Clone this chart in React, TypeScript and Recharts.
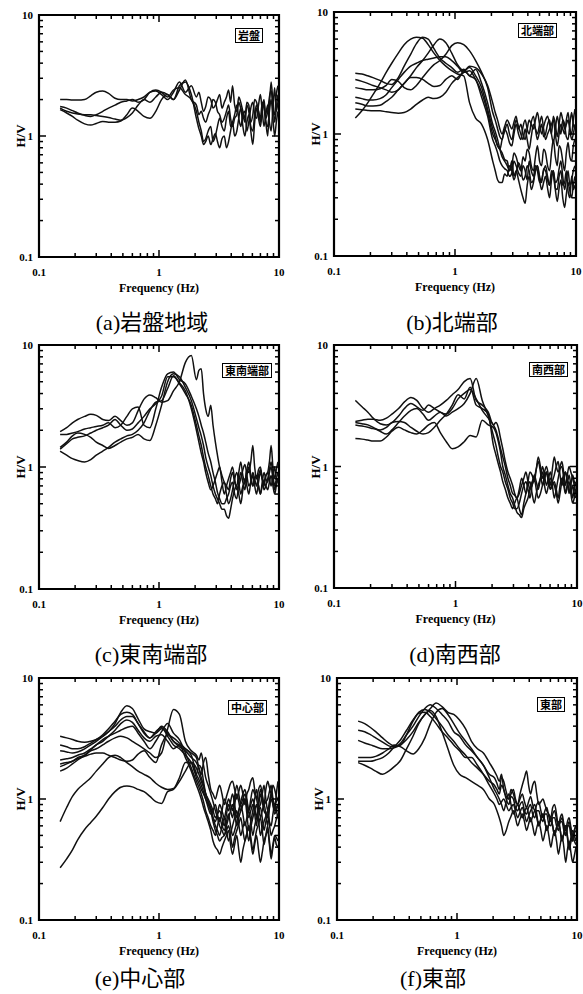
import React from "react";
import { LineChart, Line, XAxis, YAxis, ReferenceArea } from "recharts";

// shared frequency grid (Hz) for every H/V curve: 23 points below 2 Hz, 41 above
const FREQ_HZ = [
  0.15, 0.17, 0.19, 0.21, 0.24, 0.27, 0.3, 0.34, 0.38, 0.43, 0.48, 0.54,
  0.6, 0.67, 0.75, 0.84, 0.94, 1.05, 1.18, 1.32, 1.48, 1.66, 1.86,
  2.05, 2.15, 2.25, 2.35, 2.45, 2.57, 2.7, 2.82, 2.95, 3.07, 3.2, 3.35,
  3.5, 3.65, 3.8, 3.95, 4.1, 4.27, 4.45, 4.62, 4.8, 5.0, 5.2, 5.4, 5.6,
  5.82, 6.05, 6.27, 6.5, 6.75, 7.0, 7.25, 7.5, 7.77, 8.05, 8.32, 8.6,
  8.9, 9.2, 9.5, 9.8,
];

const LOG_TICKS = [
  0.1, 0.2, 0.3, 0.4, 0.5, 0.6, 0.7, 0.8, 0.9,
  1, 2, 3, 4, 5, 6, 7, 8, 9, 10,
];
const MAJOR_TICKS = [0.1, 1, 10];

// (a) 岩盤地域
const ROCK_1 = [2.0, 2.0, 1.98, 1.98, 2.0, 2.15, 2.3, 2.35, 2.25, 2.05, 2.0, 2.0, 1.95, 2.0, 2.1, 2.3, 2.35, 2.2, 2.0, 2.3, 2.8, 2.3, 2.6,
  2.1, 2.3, 1.9, 1.6, 1.75, 2.1, 2.0, 1.7, 1.8, 2.0, 2.2, 1.7, 1.9, 2.1, 2.4, 1.9, 2.6, 1.8, 1.6, 2.1, 1.9, 1.6, 1.4, 1.9, 1.8, 1.3, 1.5, 2.0, 1.9, 1.6, 1.3, 1.7, 2.0, 1.4, 1.6, 2.1, 2.4, 1.7, 1.5, 2.2, 2.6];
const ROCK_2 = [1.75, 1.7, 1.62, 1.55, 1.48, 1.45, 1.5, 1.6, 1.7, 1.8, 1.9, 1.95, 2.0, 1.9, 2.0, 2.3, 2.4, 2.3, 2.1, 2.4, 2.5, 2.2, 2.0,
  1.6, 1.3, 1.1, 0.9, 0.95, 1.1, 1.2, 0.9, 1.0, 1.2, 1.4, 1.2, 1.1, 1.4, 1.6, 1.2, 1.3, 1.5, 1.8, 1.4, 1.2, 1.5, 1.6, 1.1, 1.3, 1.7, 1.9, 1.5, 1.4, 1.8, 2.2, 1.6, 1.2, 1.5, 1.8, 1.3, 1.1, 1.7, 2.5, 1.6, 1.9];
const ROCK_3 = [1.7, 1.6, 1.55, 1.52, 1.5, 1.5, 1.48, 1.45, 1.42, 1.38, 1.35, 1.42, 1.55, 1.8, 2.0, 1.9, 2.1, 2.3, 2.2, 2.0, 2.6, 2.8, 2.2,
  1.4, 1.15, 1.0, 0.85, 0.9, 1.0, 0.85, 0.95, 1.05, 0.9, 0.8, 0.95, 1.0, 0.8, 0.9, 1.1, 1.3, 1.0, 1.1, 1.4, 1.7, 1.2, 1.0, 1.3, 1.5, 1.1, 0.85, 1.3, 1.7, 1.4, 1.2, 1.6, 1.9, 1.3, 1.0, 1.8, 2.8, 1.9, 1.3, 1.7, 2.2];
const ROCK_4 = [1.65, 1.55, 1.45, 1.35, 1.26, 1.23, 1.27, 1.32, 1.3, 1.3, 1.33, 1.5, 1.7, 1.6, 1.45, 1.4, 1.6, 2.0, 2.2, 2.0, 2.4, 2.9, 2.0,
  1.8, 1.5, 1.6, 1.4, 1.3, 1.5, 1.7, 2.0, 1.9, 1.6, 1.5, 1.3, 1.4, 1.6, 1.8, 1.4, 1.2, 1.4, 1.5, 1.9, 1.7, 1.5, 1.3, 1.8, 1.6, 1.2, 1.1, 1.5, 1.8, 1.6, 1.4, 1.9, 1.7, 1.3, 1.2, 1.6, 2.0, 1.4, 1.0, 1.3, 1.6];

// (b) 北端部
const NORTH_1 = [1.35, 1.55, 1.8, 2.1, 2.6, 3.2, 3.8, 4.6, 5.4, 6.0, 6.2, 6.1, 5.4, 4.6, 4.0, 3.6, 3.3, 3.1, 3.0, 1.8, 1.35, 1.2, 0.9,
  0.6, 0.5, 0.42, 0.4, 0.4, 0.47, 0.45, 0.55, 0.5, 0.42, 0.48, 0.58, 0.52, 0.42, 0.45, 0.55, 0.5, 0.4, 0.42, 0.5, 0.55, 0.45, 0.4, 0.52, 0.5, 0.42, 0.38, 0.5, 0.46, 0.36, 0.35, 0.45, 0.5, 0.38, 0.4, 0.5, 0.34, 0.3, 0.45, 0.35, 0.38];
const NORTH_2 = [3.15, 3.1, 3.0, 2.9, 2.75, 2.6, 2.55, 2.9, 3.6, 4.5, 5.5, 6.2, 6.0, 5.0, 4.2, 3.8, 3.5, 3.2, 3.4, 3.0, 3.4, 2.6, 1.8,
  1.2, 1.05, 0.9, 0.75, 0.65, 0.6, 0.55, 0.5, 0.6, 0.45, 0.5, 0.42, 0.35, 0.3, 0.27, 0.38, 0.45, 0.35, 0.4, 0.5, 0.55, 0.42, 0.35, 0.4, 0.45, 0.36, 0.3, 0.42, 0.5, 0.35, 0.28, 0.36, 0.42, 0.3, 0.25, 0.32, 0.4, 0.34, 0.3, 0.38, 0.45];
const NORTH_3 = [2.8, 2.7, 2.6, 2.5, 2.4, 2.3, 2.2, 2.3, 2.6, 3.0, 3.5, 4.0, 4.6, 5.4, 6.0, 5.6, 4.6, 3.7, 3.3, 3.5, 3.0, 2.4, 1.6,
  1.1, 0.95, 0.8, 0.75, 0.7, 0.62, 0.6, 0.5, 0.55, 0.7, 0.65, 0.55, 0.5, 0.65, 0.6, 0.75, 0.7, 0.55, 0.5, 0.65, 0.8, 0.6, 0.55, 0.75, 0.7, 0.55, 0.5, 0.7, 0.9, 0.65, 0.55, 0.8, 0.75, 0.6, 0.5, 0.7, 0.85, 0.65, 0.6, 0.8, 0.9];
const NORTH_4 = [2.4, 2.35, 2.3, 2.3, 2.35, 2.5, 2.8, 2.7, 2.4, 2.3, 2.5, 2.9, 3.3, 3.7, 4.0, 4.5, 5.3, 5.6, 5.4, 4.8, 4.0, 3.2, 2.4,
  1.5, 1.3, 1.1, 0.95, 0.9, 1.1, 1.0, 0.85, 0.8, 1.0, 1.2, 1.0, 0.9, 1.15, 1.3, 1.1, 1.0, 1.25, 1.4, 1.1, 0.9, 1.05, 1.2, 0.95, 1.0, 1.2, 1.3, 1.0, 0.85, 1.1, 1.4, 1.15, 1.0, 1.3, 1.2, 0.95, 0.9, 1.2, 1.5, 1.2, 1.1];
const NORTH_5 = [2.0, 1.95, 1.9, 1.9, 1.95, 2.1, 2.4, 2.8, 3.2, 3.6, 3.8, 4.0, 4.1, 4.2, 4.3, 4.3, 4.0, 3.6, 3.2, 3.3, 2.8, 2.2, 1.5,
  1.0, 0.9, 0.8, 0.75, 0.9, 1.05, 1.2, 1.0, 0.9, 1.1, 1.3, 1.15, 1.0, 0.9, 1.1, 0.9, 0.75, 0.95, 1.2, 1.1, 1.0, 1.2, 1.4, 1.1, 0.9, 1.0, 1.1, 1.2, 1.3, 1.0, 0.8, 1.0, 1.2, 1.1, 1.0, 1.3, 1.5, 1.1, 0.9, 1.0, 1.2];
const NORTH_6 = [1.8, 1.75, 1.7, 1.7, 1.72, 1.85, 2.0, 2.3, 2.6, 2.9, 2.9, 2.8, 2.6, 2.45, 2.5, 2.8, 3.0, 2.8, 3.3, 3.0, 2.8, 2.0, 1.4,
  0.9, 0.8, 0.7, 0.6, 0.55, 0.52, 0.5, 0.45, 0.48, 0.6, 0.55, 0.48, 0.45, 0.55, 0.5, 0.42, 0.6, 0.5, 0.45, 0.55, 0.5, 0.4, 0.42, 0.5, 0.55, 0.45, 0.38, 0.46, 0.5, 0.4, 0.42, 0.52, 0.6, 0.45, 0.35, 0.42, 0.5, 0.38, 0.42, 0.5, 0.55];
const NORTH_7 = [1.6, 1.58, 1.56, 1.55, 1.55, 1.52, 1.5, 1.48, 1.5, 1.6, 1.75, 1.9, 2.0, 1.95, 2.0, 2.2, 2.6, 2.9, 3.2, 3.6, 3.5, 3.1, 2.5,
  1.8, 1.5, 1.3, 1.1, 1.0, 1.15, 1.3, 1.2, 1.1, 1.25, 1.4, 1.1, 1.2, 1.0, 0.9, 1.1, 1.3, 1.2, 1.1, 1.3, 1.5, 1.2, 1.0, 1.15, 1.3, 1.4, 1.2, 1.0, 1.4, 1.2, 0.95, 1.2, 1.5, 1.3, 1.1, 1.2, 1.3, 1.1, 1.0, 1.3, 1.6];

// (c) 東南端部
const SE_1 = [1.95, 2.1, 2.3, 2.45, 2.6, 2.7, 2.65, 2.45, 2.4, 2.6, 2.4, 2.2, 2.3, 2.9, 3.6, 3.9, 3.7, 3.4, 3.5, 4.2, 5.0, 7.2, 8.2,
  5.2, 6.2, 6.4, 4.0, 3.0, 2.6, 3.2, 2.2, 1.6, 1.25, 1.0, 0.85, 0.75, 0.7, 0.65, 0.8, 0.9, 0.75, 0.7, 0.9, 1.1, 0.85, 0.75, 0.95, 0.9, 1.1, 1.5, 1.0, 0.8, 0.95, 1.0, 0.8, 0.7, 0.85, 0.9, 1.1, 1.5, 1.0, 0.8, 0.95, 1.1];
const SE_2 = [1.85, 1.85, 1.9, 1.95, 2.05, 2.1, 2.15, 2.2, 2.3, 2.1, 2.2, 2.6, 3.0, 3.1, 2.2, 2.1, 3.0, 4.5, 5.8, 6.0, 5.2, 4.8, 3.8,
  3.0, 2.6, 2.2, 1.9, 1.6, 1.3, 1.1, 0.9, 0.75, 0.62, 0.55, 0.5, 0.5, 0.55, 0.6, 0.7, 0.75, 0.6, 0.55, 0.75, 0.9, 0.75, 0.65, 0.85, 1.0, 0.8, 0.7, 0.8, 0.85, 0.7, 0.6, 0.75, 0.9, 0.8, 0.75, 0.9, 1.0, 0.8, 0.65, 0.75, 0.8];
const SE_3 = [1.45, 1.6, 1.8, 1.9, 1.85, 1.75, 1.6, 1.5, 1.42, 1.5, 1.6, 1.7, 1.75, 1.85, 1.7, 1.65, 2.2, 3.2, 5.0, 5.8, 5.5, 4.5, 3.5,
  2.5, 2.1, 1.8, 1.5, 1.2, 1.0, 0.85, 0.7, 0.6, 0.55, 0.5, 0.45, 0.45, 0.4, 0.38, 0.45, 0.55, 0.65, 0.7, 0.6, 0.5, 0.65, 0.8, 0.7, 0.6, 0.75, 0.9, 0.8, 0.7, 0.85, 0.95, 0.8, 0.65, 0.7, 0.8, 0.95, 1.1, 0.85, 0.7, 0.8, 0.9];
const SE_4 = [1.35, 1.25, 1.17, 1.13, 1.1, 1.15, 1.25, 1.35, 1.45, 1.6, 1.7, 1.8, 1.85, 2.0, 2.3, 2.9, 3.4, 3.5, 4.4, 5.6, 4.8, 4.0, 3.2,
  2.2, 1.8, 1.5, 1.2, 1.0, 0.85, 0.7, 0.6, 0.55, 0.5, 0.6, 0.7, 0.75, 0.6, 0.5, 0.55, 0.65, 0.8, 0.9, 0.75, 0.6, 0.7, 0.75, 0.95, 1.1, 0.85, 0.7, 0.8, 0.85, 0.7, 0.6, 0.7, 0.75, 0.85, 0.9, 0.8, 0.7, 0.85, 1.0, 0.8, 0.75];
const SE_5 = [1.4, 1.55, 1.7, 1.75, 1.8, 1.9, 2.0, 2.1, 2.2, 2.45, 2.2, 2.0, 2.05, 2.3, 2.6, 3.0, 3.3, 3.8, 5.5, 5.5, 4.9, 4.2, 3.0,
  2.0, 1.6, 1.3, 1.1, 0.9, 0.75, 0.65, 0.7, 0.8, 0.9, 1.0, 0.75, 0.6, 0.7, 0.8, 0.9, 1.0, 0.8, 0.65, 0.7, 0.8, 0.95, 1.05, 0.85, 0.7, 0.75, 0.85, 0.7, 0.6, 0.75, 0.9, 0.8, 0.75, 0.7, 0.65, 0.75, 0.85, 0.7, 0.6, 0.7, 0.8];

// (d) 南西部
const SW_1 = [3.5, 3.1, 2.8, 2.5, 2.25, 2.2, 2.3, 2.6, 3.0, 3.3, 3.1, 2.9, 3.2, 3.0, 2.8, 2.7, 3.0, 3.6, 4.0, 4.3, 3.6, 2.9, 2.5,
  2.2, 2.0, 1.7, 1.4, 1.2, 1.0, 0.8, 0.7, 0.6, 0.58, 0.55, 0.6, 0.7, 0.8, 0.9, 0.75, 0.65, 0.7, 0.8, 0.95, 1.1, 0.9, 0.7, 0.8, 0.9, 0.75, 0.65, 0.75, 0.85, 1.0, 1.1, 0.85, 0.7, 0.8, 0.9, 0.75, 0.6, 0.7, 0.85, 0.75, 0.7];
const SW_2 = [2.35, 2.4, 2.45, 2.45, 2.4, 2.5, 2.7, 3.0, 3.4, 3.7, 3.5, 3.0, 2.8, 3.0, 3.2, 3.5, 3.9, 4.3, 5.0, 5.3, 3.5, 3.2, 2.8,
  2.2, 2.3, 2.1, 1.7, 1.4, 1.1, 0.9, 0.8, 0.7, 0.6, 0.55, 0.65, 0.8, 0.7, 0.6, 0.75, 0.9, 0.85, 0.75, 0.95, 1.2, 1.0, 0.8, 0.9, 1.0, 0.85, 0.7, 0.95, 1.2, 1.0, 0.9, 1.0, 1.1, 0.9, 0.7, 0.85, 1.0, 0.9, 0.8, 0.7, 0.6];
const SW_3 = [2.3, 2.25, 2.2, 2.1, 1.95, 1.85, 2.0, 2.3, 2.6, 2.9, 3.0, 2.7, 2.4, 2.6, 2.8, 2.6, 2.8, 3.0, 3.3, 4.0, 5.3, 3.5, 2.6,
  1.8, 1.5, 1.2, 1.0, 0.9, 0.75, 0.65, 0.55, 0.5, 0.45, 0.45, 0.5, 0.6, 0.7, 0.75, 0.65, 0.55, 0.7, 0.85, 0.75, 0.65, 0.8, 1.0, 0.85, 0.7, 0.8, 0.9, 0.7, 0.55, 0.65, 0.8, 0.95, 1.0, 0.8, 0.6, 0.7, 0.85, 0.7, 0.55, 0.65, 0.75];
const SW_4 = [2.2, 2.15, 2.1, 2.05, 2.0, 2.1, 2.3, 2.35, 2.3, 2.1, 1.95, 1.85, 1.9, 2.1, 2.4, 2.7, 3.2, 3.9, 3.6, 4.5, 3.2, 3.0, 2.7,
  1.5, 1.25, 1.05, 0.9, 0.75, 0.65, 0.55, 0.5, 0.45, 0.5, 0.55, 0.45, 0.4, 0.5, 0.6, 0.7, 0.75, 0.6, 0.5, 0.6, 0.7, 0.8, 0.9, 0.7, 0.6, 0.7, 0.8, 0.75, 0.7, 0.6, 0.5, 0.6, 0.75, 0.85, 0.9, 0.75, 0.65, 0.6, 0.7, 0.6, 0.55];
const SW_5 = [1.7, 1.68, 1.65, 1.62, 1.62, 1.75, 1.95, 2.1, 2.0, 1.9, 1.85, 2.0, 2.2, 2.3, 1.9, 1.6, 1.4, 1.45, 1.6, 1.8, 1.75, 2.4, 2.2,
  2.1, 1.9, 1.6, 1.3, 1.0, 0.85, 0.7, 0.6, 0.55, 0.48, 0.42, 0.4, 0.38, 0.45, 0.5, 0.55, 0.65, 0.75, 0.8, 0.65, 0.55, 0.6, 0.7, 0.8, 0.9, 0.75, 0.65, 0.7, 0.75, 0.65, 0.55, 0.7, 0.8, 0.7, 0.6, 0.7, 0.75, 0.6, 0.5, 0.55, 0.65];

// (e) 中心部
const CEN_1 = [3.3, 3.2, 3.1, 3.0, 2.95, 3.0, 3.1, 3.3, 3.6, 4.2, 5.2, 5.9, 5.6, 4.6, 3.8, 3.6, 3.5, 3.8, 3.5, 3.0, 2.7, 2.5, 2.2,
  2.0, 1.8, 1.6, 2.0, 2.2, 1.6, 1.2, 1.1, 1.0, 1.15, 1.3, 1.1, 0.9, 1.05, 1.2, 1.35, 1.4, 1.2, 1.0, 1.15, 1.3, 1.1, 0.9, 1.1, 1.2, 1.4, 1.5, 1.2, 1.0, 1.2, 1.3, 1.1, 0.9, 1.2, 1.4, 1.25, 1.1, 1.3, 1.2, 1.05, 1.0];
const CEN_2 = [2.8, 2.7, 2.6, 2.6, 2.7, 2.9, 3.1, 3.4, 3.8, 4.4, 5.0, 5.2, 5.0, 4.2, 3.5, 3.2, 3.5, 4.0, 3.6, 3.0, 2.8, 2.6, 2.4,
  2.2, 1.8, 1.5, 1.3, 1.1, 1.0, 0.9, 0.8, 0.7, 0.75, 0.8, 0.7, 0.6, 0.75, 0.9, 0.8, 0.7, 0.9, 1.1, 0.95, 0.8, 0.9, 1.0, 0.85, 0.7, 0.8, 0.9, 0.75, 0.6, 0.85, 1.1, 0.95, 0.8, 0.75, 0.7, 0.85, 1.0, 0.9, 0.8, 0.85, 0.9];
const CEN_3 = [2.5, 2.45, 2.4, 2.45, 2.6, 2.8, 3.0, 3.3, 3.6, 4.0, 4.5, 4.8, 4.8, 4.2, 3.6, 3.2, 3.6, 3.9, 3.3, 2.8, 2.6, 2.3, 2.0,
  1.6, 1.9, 1.8, 1.4, 1.1, 0.95, 0.8, 0.65, 0.55, 0.5, 0.45, 0.48, 0.5, 0.55, 0.6, 0.5, 0.4, 0.48, 0.55, 0.62, 0.7, 0.55, 0.45, 0.52, 0.6, 0.48, 0.38, 0.45, 0.55, 0.62, 0.7, 0.55, 0.42, 0.5, 0.6, 0.45, 0.35, 0.42, 0.5, 0.48, 0.45];
const CEN_4 = [2.1, 2.15, 2.2, 2.3, 2.4, 2.6, 2.8, 3.0, 3.3, 3.7, 4.2, 4.5, 4.3, 3.7, 3.2, 3.0, 3.3, 3.4, 3.0, 2.6, 2.8, 2.2, 1.7,
  1.3, 1.15, 1.0, 0.85, 0.75, 0.65, 0.55, 0.45, 0.4, 0.38, 0.35, 0.4, 0.45, 0.5, 0.55, 0.42, 0.35, 0.42, 0.5, 0.38, 0.3, 0.38, 0.45, 0.52, 0.6, 0.45, 0.35, 0.42, 0.5, 0.38, 0.3, 0.36, 0.45, 0.5, 0.55, 0.42, 0.32, 0.4, 0.48, 0.42, 0.4];
const CEN_5 = [1.95, 2.0, 2.05, 2.2, 2.3, 2.5, 2.6, 2.8, 3.0, 3.2, 3.3, 3.2, 3.0, 2.8, 2.6, 2.4, 2.2, 2.4, 3.8, 5.5, 5.0, 3.0, 2.5,
  2.3, 2.1, 2.4, 1.9, 1.5, 1.3, 1.1, 0.95, 0.8, 0.7, 0.6, 0.55, 0.5, 0.6, 0.7, 0.8, 0.9, 0.75, 0.6, 0.7, 0.8, 0.9, 1.0, 0.75, 0.55, 0.65, 0.8, 1.0, 1.2, 0.9, 0.7, 0.8, 0.9, 0.75, 0.6, 0.85, 1.1, 0.9, 0.75, 0.8, 0.9];
const CEN_6 = [1.85, 1.95, 2.05, 2.15, 2.25, 2.35, 2.4, 2.4, 2.3, 2.2, 2.1, 2.05, 2.1, 2.35, 2.5, 2.2, 2.0, 2.8, 3.4, 3.2, 2.9, 2.6, 2.3,
  1.6, 1.45, 1.3, 1.15, 1.0, 0.85, 0.75, 0.8, 0.9, 0.75, 0.65, 0.8, 1.0, 0.9, 0.8, 0.95, 1.1, 0.9, 0.7, 0.8, 0.95, 1.1, 1.2, 1.0, 0.8, 0.9, 1.0, 0.85, 0.7, 0.95, 1.2, 1.05, 0.9, 0.95, 1.0, 1.15, 1.3, 1.0, 0.8, 1.1, 1.4];
const CEN_7 = [1.7, 1.8, 1.95, 2.1, 2.3, 2.55, 2.8, 3.1, 3.3, 3.5, 3.7, 3.9, 4.0, 3.5, 3.0, 2.6, 3.0, 3.6, 4.2, 3.5, 3.1, 2.4, 1.8,
  1.4, 1.25, 1.1, 0.95, 0.8, 0.7, 0.6, 0.55, 0.5, 0.6, 0.7, 0.6, 0.55, 0.65, 0.75, 0.6, 0.5, 0.55, 0.65, 0.8, 0.9, 0.75, 0.6, 0.7, 0.8, 0.65, 0.5, 0.6, 0.7, 0.8, 0.85, 0.7, 0.55, 0.65, 0.75, 0.65, 0.6, 0.75, 0.9, 0.8, 0.7];
const CEN_8 = [0.65, 0.85, 1.05, 1.2, 1.35, 1.5, 1.7, 1.95, 2.2, 2.3, 2.2, 2.0, 1.85, 1.7, 1.6, 1.5, 1.35, 1.25, 1.2, 1.22, 1.5, 2.0, 2.0,
  1.5, 1.35, 1.2, 1.1, 1.0, 0.9, 0.8, 0.7, 0.65, 0.75, 0.9, 0.8, 0.7, 0.85, 1.0, 0.9, 0.8, 1.05, 1.3, 1.1, 0.9, 1.0, 1.1, 0.95, 0.8, 1.0, 1.2, 1.1, 1.0, 0.85, 0.9, 1.1, 1.3, 1.0, 0.8, 0.95, 1.1, 1.0, 0.9, 0.95, 1.0];
const CEN_9 = [0.27, 0.32, 0.38, 0.46, 0.56, 0.64, 0.72, 0.85, 1.0, 1.15, 1.25, 1.28, 1.26, 1.2, 1.15, 1.05, 0.95, 0.92, 1.15, 1.2, 1.4, 1.7, 2.0,
  1.8, 1.6, 1.4, 1.25, 1.1, 0.95, 0.85, 0.7, 0.6, 0.55, 0.5, 0.6, 0.7, 0.55, 0.45, 0.52, 0.6, 0.7, 0.8, 0.62, 0.5, 0.58, 0.65, 0.55, 0.45, 0.58, 0.7, 0.8, 0.9, 0.68, 0.5, 0.58, 0.65, 0.72, 0.8, 0.62, 0.5, 0.55, 0.6, 0.68, 0.75];

// (f) 東部
const EAST_1 = [4.4, 4.2, 3.9, 3.6, 3.2, 2.9, 2.75, 2.8, 3.4, 4.4, 5.2, 5.5, 5.2, 4.6, 4.0, 3.4, 3.0, 2.6, 2.3, 2.0, 1.8, 1.6, 1.4,
  1.3, 1.2, 1.1, 1.3, 1.2, 1.0, 0.9, 1.05, 1.0, 0.85, 0.8, 0.9, 0.95, 0.8, 0.75, 0.85, 0.9, 0.75, 0.7, 0.8, 0.8, 0.7, 0.65, 0.75, 0.75, 0.62, 0.6, 0.7, 0.7, 0.6, 0.55, 0.65, 0.65, 0.55, 0.5, 0.6, 0.6, 0.5, 0.45, 0.52, 0.55];
const EAST_2 = [3.7, 3.6, 3.4, 3.2, 2.95, 2.75, 2.7, 2.9, 3.4, 4.0, 4.8, 5.6, 6.0, 5.6, 5.0, 4.4, 3.6, 3.3, 2.8, 2.5, 2.2, 1.9, 1.6,
  1.5, 1.35, 1.2, 1.5, 1.4, 1.15, 1.0, 1.1, 1.2, 1.0, 0.9, 1.0, 1.1, 0.95, 0.85, 0.95, 1.05, 0.9, 0.8, 0.9, 0.95, 0.8, 0.7, 0.8, 0.85, 0.72, 0.65, 0.75, 0.8, 0.68, 0.6, 0.65, 0.7, 0.6, 0.5, 0.58, 0.65, 0.55, 0.45, 0.55, 0.6];
const EAST_3 = [3.05, 2.9, 2.8, 2.7, 2.6, 2.6, 2.65, 2.8, 3.1, 3.6, 4.3, 5.0, 5.6, 6.2, 5.8, 5.2, 5.0, 4.5, 3.8, 3.0, 2.6, 2.4, 2.0,
  1.7, 1.55, 1.4, 1.6, 1.2, 1.05, 1.0, 1.2, 1.1, 0.95, 0.9, 1.1, 1.3, 1.5, 1.7, 1.3, 1.1, 1.3, 1.4, 1.1, 0.9, 0.95, 1.0, 0.9, 0.8, 0.75, 0.7, 0.85, 0.9, 0.75, 0.6, 0.7, 0.75, 0.62, 0.55, 0.65, 0.7, 0.58, 0.5, 0.55, 0.6];
const EAST_4 = [2.2, 2.2, 2.2, 2.25, 2.4, 2.6, 2.8, 2.7, 2.5, 2.35, 2.6, 3.2, 4.2, 5.2, 5.6, 5.0, 4.2, 3.5, 3.0, 2.6, 2.2, 1.9, 1.5,
  1.2, 1.1, 1.0, 0.9, 0.8, 0.95, 1.1, 0.9, 0.75, 0.82, 0.9, 0.8, 0.7, 0.78, 0.85, 0.75, 0.65, 0.72, 0.8, 0.7, 0.6, 0.68, 0.75, 0.65, 0.55, 0.62, 0.7, 0.6, 0.5, 0.58, 0.65, 0.55, 0.45, 0.52, 0.6, 0.5, 0.4, 0.48, 0.55, 0.5, 0.45];
const EAST_5 = [2.0, 1.9, 1.8, 1.7, 1.6, 1.7, 1.85, 2.1, 2.6, 3.3, 4.2, 5.0, 5.4, 4.8, 3.6, 2.6, 1.9, 1.6, 1.5, 1.4, 1.3, 1.2, 1.0,
  0.9, 0.8, 0.7, 0.6, 0.5, 0.55, 0.65, 0.72, 0.8, 0.7, 0.6, 0.68, 0.75, 0.65, 0.55, 0.62, 0.7, 0.6, 0.5, 0.58, 0.65, 0.55, 0.45, 0.52, 0.6, 0.5, 0.4, 0.48, 0.55, 0.45, 0.35, 0.42, 0.5, 0.4, 0.3, 0.38, 0.45, 0.36, 0.3, 0.34, 0.4];
const EAST_6 = [2.05, 2.05, 2.05, 2.1, 2.2, 2.4, 2.7, 3.1, 3.7, 4.5, 5.1, 5.2, 4.8, 4.2, 3.6, 3.2, 2.8, 2.5, 2.2, 2.2, 1.9, 1.6, 1.3,
  1.1, 1.0, 0.9, 0.95, 1.0, 0.9, 0.8, 0.85, 0.9, 0.8, 0.7, 0.78, 0.85, 0.75, 0.65, 0.72, 0.8, 0.85, 0.9, 0.75, 0.6, 0.68, 0.75, 0.65, 0.55, 0.62, 0.7, 0.6, 0.5, 0.58, 0.65, 0.55, 0.45, 0.52, 0.6, 0.48, 0.38, 0.44, 0.5, 0.45, 0.42];

const SERIF = "'Liberation Serif', 'Times New Roman', 'Noto Sans CJK JP', serif";

// plot boxes measured off the page
const PANELS = [
  { caption: "(a)岩盤地域", tag: "岩盤", curves: [ROCK_1, ROCK_2, ROCK_3, ROCK_4], x: 39, y: 15, w: 240, h: 242, tagRight: 16, tagTop: 13, capX: 152, capY: 320 },
  { caption: "(b)北端部", tag: "北端部", curves: [NORTH_1, NORTH_2, NORTH_3, NORTH_4, NORTH_5, NORTH_6, NORTH_7], x: 334, y: 12, w: 242, h: 244, tagRight: 19, tagTop: 11, capX: 452, capY: 320 },
  { caption: "(c)東南端部", tag: "東南端部", curves: [SE_1, SE_2, SE_3, SE_4, SE_5], x: 39, y: 345, w: 240, h: 244, tagRight: 7, tagTop: 18, capX: 151, capY: 652 },
  { caption: "(d)南西部", tag: "南西部", curves: [SW_1, SW_2, SW_3, SW_4, SW_5], x: 334, y: 345, w: 243, h: 243, tagRight: 9, tagTop: 17, capX: 455, capY: 652 },
  { caption: "(e)中心部", tag: "中心部", curves: [CEN_1, CEN_2, CEN_3, CEN_4, CEN_5, CEN_6, CEN_7, CEN_8, CEN_9], x: 39, y: 678, w: 240, h: 242, tagRight: 12, tagTop: 22, capX: 140, capY: 976 },
  { caption: "(f)東部", tag: "東部", curves: [EAST_1, EAST_2, EAST_3, EAST_4, EAST_5, EAST_6], x: 337, y: 678, w: 240, h: 242, tagRight: 12, tagTop: 19, capX: 433, capY: 976 },
];

const isMajor = (v: number) => MAJOR_TICKS.some((m) => Math.abs(m - v) < 1e-9);
const fmt = (v: number) => (v < 1 ? "0.1" : String(v));

function XTick(props: any) {
  const { x, y, payload, plotH } = props;
  const v = payload.value;
  const len = isMajor(v) ? 7 : 4;
  return (
    <g>
      <line x1={x} x2={x} y1={y} y2={y - len} stroke="#000" strokeWidth={1.5} />
      <line x1={x} x2={x} y1={y - plotH} y2={y - plotH + len} stroke="#000" strokeWidth={1.5} />
      {isMajor(v) && (
        <text x={x} y={y + 19} textAnchor="middle" fontFamily={SERIF} fontWeight="bold" fontSize={11} fill="#000">
          {fmt(v)}
        </text>
      )}
    </g>
  );
}

function YTick(props: any) {
  const { x, y, payload, plotW } = props;
  const v = payload.value;
  const len = isMajor(v) ? 7 : 4;
  return (
    <g>
      <line x1={x} x2={x + len} y1={y} y2={y} stroke="#000" strokeWidth={1.5} />
      <line x1={x + plotW} x2={x + plotW - len} y1={y} y2={y} stroke="#000" strokeWidth={1.5} />
      {isMajor(v) && (
        <text x={x - 6} y={y + 4} textAnchor="end" fontFamily={SERIF} fontWeight="bold" fontSize={11} fill="#000">
          {fmt(v)}
        </text>
      )}
    </g>
  );
}

const ML = 40;
const MT = 10;
const MR = 12;
const MB = 30;

function Panel({ p }: { p: any }) {
  const rows = FREQ_HZ.map((f, i) => {
    const r: any = { f };
    p.curves.forEach((c: number[], j: number) => {
      r["s" + j] = c[i];
    });
    return r;
  });
  return (
    <>
      <div style={{ position: "absolute", left: p.x - ML, top: p.y - MT }}>
        <LineChart
          width={p.w + ML + MR}
          height={p.h + MT + MB}
          data={rows}
          margin={{ top: MT, right: MR, bottom: 0, left: 0 }}
        >
          <XAxis
            dataKey="f"
            type="number"
            scale="log"
            domain={[0.1, 10]}
            ticks={LOG_TICKS}
            interval={0}
            allowDataOverflow
            height={MB}
            tickLine={false}
            axisLine={false}
            tickSize={0}
            tickMargin={0}
            tick={(t: any) => <XTick {...t} plotH={p.h} />}
          />
          <YAxis
            type="number"
            scale="log"
            domain={[0.1, 10]}
            ticks={LOG_TICKS}
            interval={0}
            allowDataOverflow
            width={ML}
            tickLine={false}
            axisLine={false}
            tickSize={0}
            tickMargin={0}
            tick={(t: any) => <YTick {...t} plotW={p.w} />}
          />
          <ReferenceArea
            x1={0.1}
            x2={10}
            y1={0.1}
            y2={10}
            fill="none"
            stroke="#000"
            strokeWidth={2.2}
            ifOverflow="visible"
          />
          {p.curves.map((_: number[], j: number) => (
            <Line
              key={j}
              dataKey={"s" + j}
              type="monotone"
              stroke="#111"
              strokeWidth={1.5}
              dot={false}
              activeDot={false}
              isAnimationActive={false}
            />
          ))}
        </LineChart>
      </div>
      <div
        style={{
          position: "absolute",
          left: p.x - 18,
          top: p.y + p.h / 2,
          transform: "translate(-50%, -50%) rotate(-90deg)",
          fontFamily: SERIF,
          fontWeight: "bold",
          fontSize: 13,
          whiteSpace: "nowrap",
        }}
      >
        H/V
      </div>
      <div
        style={{
          position: "absolute",
          left: p.x + p.w / 2,
          top: p.y + p.h + 31,
          transform: "translate(-50%, -50%)",
          fontFamily: SERIF,
          fontWeight: "bold",
          fontSize: 12,
          whiteSpace: "nowrap",
        }}
      >
        Frequency (Hz)
      </div>
      <div
        style={{
          position: "absolute",
          left: p.capX,
          top: p.capY,
          transform: "translate(-50%, -50%)",
          fontFamily: SERIF,
          fontSize: 22,
          whiteSpace: "nowrap",
        }}
      >
        {p.caption}
      </div>
      <div
        style={{
          position: "absolute",
          right: 583 - (p.x + p.w - p.tagRight),
          top: p.y + p.tagTop,
          border: "1.5px solid #000",
          padding: "0 2px",
          fontFamily: "'Noto Sans CJK JP', sans-serif",
          fontWeight: "bold",
          fontSize: 11,
          lineHeight: "13px",
          background: "#fff",
          whiteSpace: "nowrap",
        }}
      >
        {p.tag}
      </div>
    </>
  );
}

export default function App() {
  return (
    <div style={{ position: "absolute", left: 0, top: 0, width: 583, height: 994, background: "#fff" }}>
      {PANELS.map((p, i) => (
        <Panel key={i} p={p} />
      ))}
    </div>
  );
}
